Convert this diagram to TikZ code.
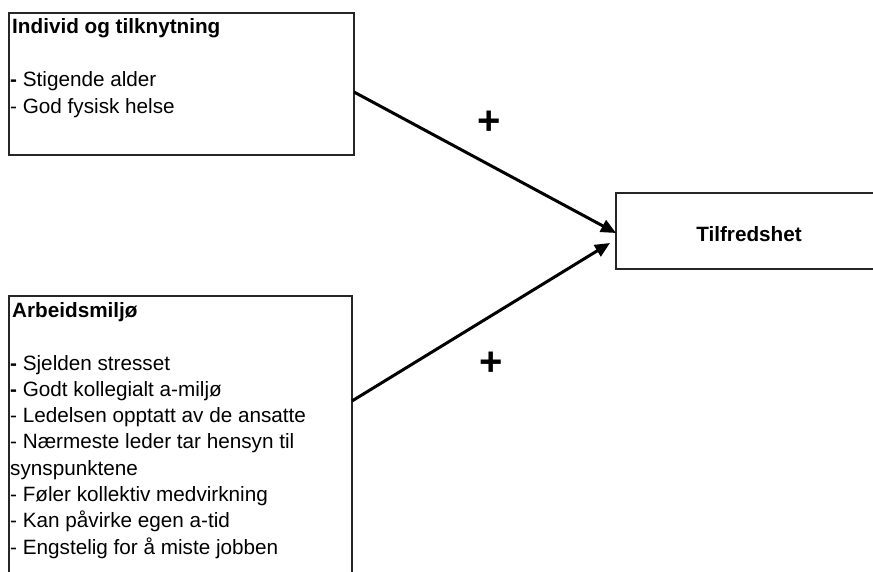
\documentclass[tikz,border=0pt]{standalone}
\usepackage{fontspec}
\setmainfont{Liberation Sans}
\usetikzlibrary{arrows.meta}
\tikzset{
  box/.style={draw=black!85, line width=1.4pt, fill=white, anchor=north west, inner sep=0pt, outer sep=0pt},
  txt/.style={anchor=base west, inner sep=0pt, font=\fontsize{20.7}{26.3}\selectfont},
  plus/.style={inner sep=0pt, font=\fontsize{40}{40}\selectfont\bfseries},
  arr/.style={line width=3pt, -{Triangle[length=15pt,width=13pt]}}
}
\begin{document}
\begin{tikzpicture}[x=1pt,y=-1pt]
\useasboundingbox (0,0) rectangle (873,572);
\clip (0,0) rectangle (873,572);
% boxes
\node[box, minimum width=345pt, minimum height=142pt] (ind) at (9,13) {};
\node[box, minimum width=343pt, minimum height=320pt] (arb) at (9,296) {};
\node[box, minimum width=300pt, minimum height=76pt] (tf) at (616,193) {};
% top box text
\node[txt] (i0) at (12,34) {\textbf{Individ og tilknytning}};
\node[txt] (i1) at (10,87) {\textbf{-} Stigende alder};
\node[txt] (i2) at (10,113.5) {- God fysisk helse};
% bottom box text
\node[txt] (a0) at (12,317) {\textbf{Arbeidsmiljø}};
\node[txt] (a1) at (10,370) {\textbf{-} Sjelden stresset};
\node[txt] (a2) at (10,396.3) {\textbf{-} Godt kollegialt a-miljø};
\node[txt] (a3) at (10,422.6) {- Ledelsen opptatt av de ansatte};
\node[txt] (a4) at (10,448.9) {- Nærmeste leder tar hensyn til};
\node[txt] (a5) at (10,475.2) {synspunktene};
\node[txt] (a6) at (10,501.5) {- Føler kollektiv medvirkning};
\node[txt] (a7) at (10,527.8) {- Kan påvirke egen a-tid};
\node[txt] (a8) at (10,554.1) {- Engstelig for å miste jobben};
% right box text
\node[txt, anchor=base] (t0) at (749,242) {\textbf{Tilfredshet}};
% connectors
\coordinate (s1) at (ind.east |- 0,92);
\coordinate (e1) at (tf.west |- 0,233);
\coordinate (s2) at (arb.east |- 0,401);
\coordinate (e2) at (610,243);
\draw[arr] (s1) -- (e1);
\draw[arr] (s2) -- (e2);
% plus signs
\node[plus] (p1) at (489,123) {+};
\node[plus] (p2) at (491,364) {+};
\end{tikzpicture}
\end{document}
